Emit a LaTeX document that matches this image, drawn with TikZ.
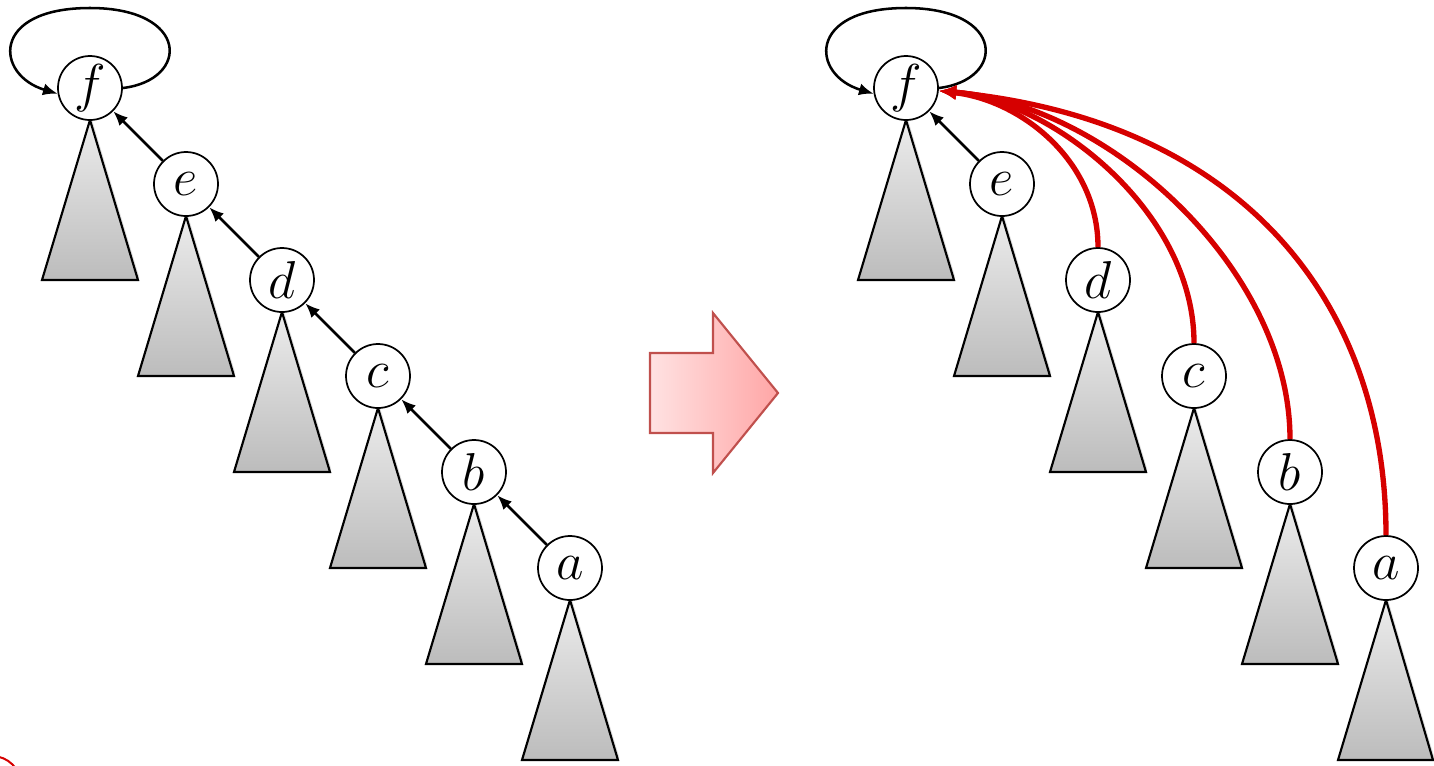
\documentclass[tikz,border=0pt]{standalone}
\usepackage{fix-cm}
\usepackage{amsmath, amssymb}
\usetikzlibrary{arrows.meta,shadows}
\tikzset{every picture/.style={line width=0.75pt}}

\begin{document}
\begin{tikzpicture}[x=0.75pt,y=0.75pt,yscale=-1,xscale=1,
  vertex/.style={draw, circle, fill=white, line width=1.3pt, minimum size=48pt, inner sep=0pt, font=\fontsize{40}{44}\selectfont},
  subtree/.style={draw, line width=1.6pt, top color={rgb,255:red,236;green,236;blue,236}, bottom color={rgb,255:red,188;green,188;blue,188}, drop shadow={opacity=0.25, shadow xshift=1pt, shadow yshift=2pt}},
  parent/.style={-{Latex[length=11pt,width=9pt]}, line width=1.9pt},
  compress/.style={-{Latex[length=13pt,width=11pt]}, line width=4pt, color={rgb,255:red,214;green,0;blue,0}}]
\path [use as bounding box] (0,0) rectangle (1434,765);

%Shape: Triangle (left)
\draw [subtree] (90,120) -- (138,280) -- (42,280) -- cycle ;
\draw [subtree] (186,216) -- (234,376) -- (138,376) -- cycle ;
\draw [subtree] (282,312) -- (330,472) -- (234,472) -- cycle ;
\draw [subtree] (378,408) -- (426,568) -- (330,568) -- cycle ;
\draw [subtree] (474,504) -- (522,664) -- (426,664) -- cycle ;
\draw [subtree] (570,600) -- (618,760) -- (522,760) -- cycle ;
%Shape: Triangle (right)
\draw [subtree] (906,120) -- (954,280) -- (858,280) -- cycle ;
\draw [subtree] (1002,216) -- (1050,376) -- (954,376) -- cycle ;
\draw [subtree] (1098,312) -- (1146,472) -- (1050,472) -- cycle ;
\draw [subtree] (1194,408) -- (1242,568) -- (1146,568) -- cycle ;
\draw [subtree] (1290,504) -- (1338,664) -- (1242,664) -- cycle ;
\draw [subtree] (1386,600) -- (1433,760) -- (1338,760) -- cycle ;

% Text Node
\node [vertex] (f1) at (90,88) {$f$};
\node [vertex] (e1) at (186,184) {$e$};
\node [vertex] (d1) at (282,280) {$d$};
\node [vertex] (c1) at (378,376) {$c$};
\node [vertex] (b1) at (474,472) {$b$};
\node [vertex] (a1) at (570,568) {$a$};
% Text Node
\node [vertex] (f2) at (906,88) {$f$};
\node [vertex] (e2) at (1002,184) {$e$};
\node [vertex] (d2) at (1098,280) {$d$};
\node [vertex] (c2) at (1194,376) {$c$};
\node [vertex] (b2) at (1290,472) {$b$};
\node [vertex] (a2) at (1386,568) {$a$};

%Straight Lines
\draw [parent] (e1) -- (f1) ;
\draw [parent] (d1) -- (e1) ;
\draw [parent] (c1) -- (d1) ;
\draw [parent] (b1) -- (c1) ;
\draw [parent] (a1) -- (b1) ;
\draw [parent] (e2) -- (f2) ;
%Curve Lines
\draw [parent] (f1.east) .. controls (190,80) and (190,8) .. (90,8) .. controls (-10,8) and (-5,75) .. (f1.190) ;
\draw [parent] (f2.east) .. controls (1006,80) and (1006,8) .. (906,8) .. controls (806,8) and (811,75) .. (f2.190) ;
%Curve Lines
\draw [compress] (d2.north) .. controls (1098,160) and (1020,100) .. (f2.-5) ;
\draw [compress] (c2.north) .. controls (1194,210) and (1050,100) .. (f2.-5) ;
\draw [compress] (b2.north) .. controls (1290,270) and (1110,105) .. (f2.-5) ;
\draw [compress] (a2.north) .. controls (1386,300) and (1240,120) .. (f2.-5) ;

%Shape: Right Arrow
\draw [line width=1.6pt, draw={rgb,255:red,192;green,80;blue,77}, left color={rgb,255:red,255;green,226;blue,226}, right color={rgb,255:red,255;green,166;blue,166}] (650,353) -- (713,353) -- (713,313) -- (778,393) -- (713,473) -- (713,433) -- (650,433) -- cycle ;

%Shape: Circle
\draw [color={rgb,255:red,214;green,0;blue,0}, line width=1.5pt] (-8,785) circle (29) ;
\end{tikzpicture}
\end{document}
